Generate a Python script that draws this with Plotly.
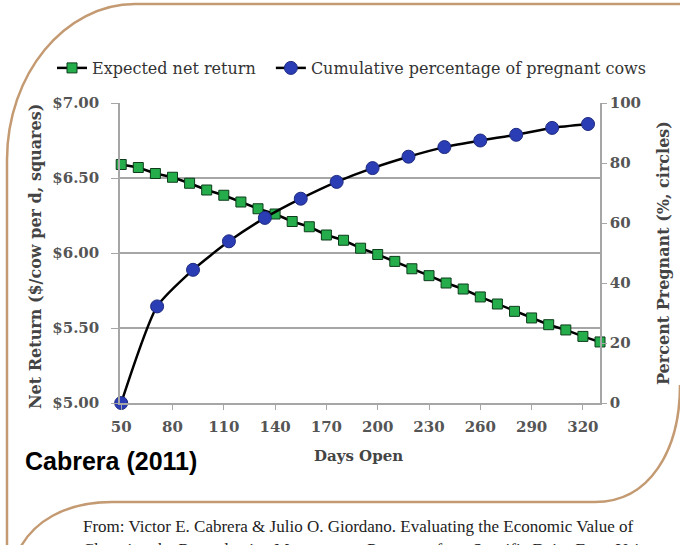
import plotly.graph_objects as go

# ---- data ----
days_return = [50, 60, 70, 80, 90, 100, 110, 120, 130, 140, 150, 160, 170, 180, 190,
               200, 210, 220, 230, 240, 250, 260, 270, 280, 290, 300, 310, 320, 330]
net_return = [6.59, 6.57, 6.53, 6.505, 6.465, 6.42, 6.385, 6.34, 6.295, 6.26, 6.21, 6.175, 6.12, 6.085, 6.032,
              5.99, 5.944, 5.895, 5.849, 5.80, 5.76, 5.707, 5.66, 5.611, 5.567, 5.522, 5.487, 5.444, 5.407]
days_preg = [50, 71, 92, 113, 134, 155, 176, 197, 218, 239, 260, 281, 302, 323]
pct_pregnant = [0, 32.2, 44.4, 53.9, 61.7, 68.1, 73.7, 78.3, 82.1, 85.3, 87.5, 89.4, 91.7, 93.0]

x_ticks = [50, 80, 110, 140, 170, 200, 230, 260, 290, 320]
left_ticks = [5.0, 5.5, 6.0, 6.5, 7.0]
left_labels = ["$5.00", "$5.50", "$6.00", "$6.50", "$7.00"]
right_ticks = [0, 20, 40, 60, 80, 100]

# ---- layout geometry (pixels) ----
W, H = 680, 545
L, R, T, B = 120, 600, 103, 403


def px(x):
    return (x - L) / (R - L)


def py(y):
    return (B - y) / (B - T)


SERIF = "DejaVu Serif"
GRAY = "#555555"
TAN = "#c49a72"
NBSP = "\u00a0"

fig = go.Figure()
fig.add_trace(go.Scatter(
    x=days_return, y=net_return, name="Expected net return" + NBSP * 2, mode="lines+markers",
    line=dict(color="black", width=2.5),
    marker=dict(symbol="square", size=10, color="#25ad4c", line=dict(color="#0d3d1a", width=1)),
    cliponaxis=False, yaxis="y"))
fig.add_trace(go.Scatter(
    x=days_preg, y=pct_pregnant, name="Cumulative percentage of pregnant cows", mode="lines+markers",
    line=dict(color="black", width=2.5, shape="spline", smoothing=0.6),
    marker=dict(symbol="circle", size=13, color="#2b3db4", line=dict(color="#1d2a80", width=1)),
    cliponaxis=False, yaxis="y2"))

tickfont = dict(family=SERIF, size=15, color=GRAY, weight="bold")

fig.update_layout(
    width=W, height=H,
    margin=dict(l=L, r=W - R, t=T, b=H - B, pad=0),
    paper_bgcolor="white", plot_bgcolor="white",
    showlegend=True,
    legend=dict(orientation="h", x=px(52), y=py(68), xanchor="left", yanchor="middle",
                font=dict(family=SERIF, size=16, color="#333333"),
                itemwidth=30, tracegroupgap=0, bgcolor="rgba(0,0,0,0)"),
    xaxis=dict(range=[49.3, 330], tickvals=x_ticks, ticks="outside", ticklen=5,
               tickcolor="#a6a6a6", showgrid=False, zeroline=False,
               showline=True, linecolor="#a6a6a6", linewidth=1.5,
               tickfont=tickfont, ticklabelstandoff=4),
    yaxis=dict(range=[5, 7], tickvals=left_ticks, ticktext=left_labels, ticks="outside",
               ticklen=7, tickcolor="#a6a6a6", showgrid=True, gridcolor="#a6a6a6", gridwidth=1.5,
               zeroline=False, showline=True, linecolor="#a6a6a6", linewidth=1.5,
               tickfont=tickfont, ticklabelstandoff=9),
    yaxis2=dict(range=[0, 100], tickvals=right_ticks, overlaying="y", side="right",
                ticks="outside", ticklen=5, tickcolor="#a6a6a6", showgrid=False, zeroline=False,
                showline=True, linecolor="#a6a6a6", linewidth=1.5,
                tickfont=tickfont, ticklabelstandoff=0),
)

ann = [
    dict(text="Net Return ($/cow per d, squares)", x=px(35), y=py(257), textangle=-90,
         font=dict(family=SERIF, size=16, color="#444444", weight="bold")),
    dict(text="Percent Pregnant (%, circles)", x=px(663), y=py(253), textangle=-90,
         font=dict(family=SERIF, size=16, color="#444444", weight="bold")),
    dict(text="Days Open", x=px(358), y=py(456),
         font=dict(family=SERIF, size=15, color="#444444", weight="bold")),
    dict(text="Cabrera (2011)", x=px(23), y=py(461), xanchor="left",
         font=dict(family="Liberation Sans", size=25, color="black", weight="bold")),
    dict(text="From: Victor E. Cabrera &amp; Julio O. Giordano. Evaluating the Economic Value of",
         x=px(81), y=py(526), xanchor="left",
         font=dict(family="Liberation Serif", size=17, color="#222222")),
    dict(text="Changing the Reproductive Management Programs for a Specific Dairy Farm Using a",
         x=px(81), y=py(549), xanchor="left",
         font=dict(family="Liberation Serif", size=17, color="#222222")),
]
for a in ann:
    a.update(xref="paper", yref="paper", showarrow=False)
    a.setdefault("xanchor", "center")
    a.setdefault("yanchor", "middle")
fig.update_layout(annotations=ann)


def P(x, y):
    return f"{px(x):.5f},{py(y):.5f}"


frame_top = (f"M {P(690, 4)} L {P(135, 4)} C {P(65, 4)} {P(7, 74)} {P(7, 160)} L {P(7, 560)}")
frame_bottom = (f"M {P(680, 385)} C {P(680, 450)} {P(650, 502)} {P(595, 502)} "
                f"L {P(112, 502)} C {P(65, 502)} {P(32, 522)} {P(18, 552)}")
fig.update_layout(shapes=[
    dict(type="path", path=frame_top, xref="paper", yref="paper", line=dict(color=TAN, width=2.5), layer="below"),
    dict(type="path", path=frame_bottom, xref="paper", yref="paper", line=dict(color=TAN, width=2.5), layer="below"),
])

fig.write_html("out.html", config={"displayModeBar": False},
               post_script="document.body.style.margin='0';document.body.style.overflow='hidden';")
